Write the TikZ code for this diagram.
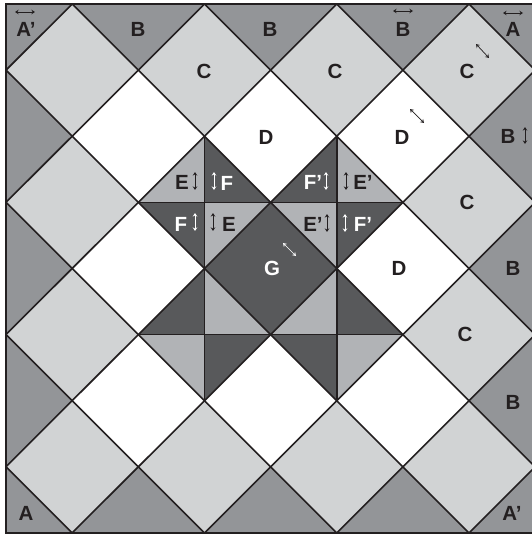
\documentclass[tikz,border=0pt]{standalone}
\usepackage{fontspec}
\usetikzlibrary{arrows.meta}
\setmainfont{Liberation Sans}
\definecolor{midg}{HTML}{939598}
\definecolor{lig}{HTML}{D1D3D4}
\definecolor{elt}{HTML}{B1B3B6}
\definecolor{drk}{HTML}{58595B}
\definecolor{ink}{HTML}{231F20}
\tikzset{
  grid/.style={draw=ink,line width=1.6pt,line join=miter},
  lbl/.style={font=\fontsize{20.5}{20.5}\selectfont\bfseries,text=ink,inner sep=0pt},
  wlbl/.style={lbl,text=white},
  arr/.style={draw=ink,line width=0.7pt,{Stealth[length=3.6pt,width=4.6pt,open]}-{Stealth[length=3.6pt,width=4.6pt,open]}},
  warr/.style={arr,draw=white},
}
\begin{document}
\begin{tikzpicture}[x=1pt,y=-1pt]
\useasboundingbox (0,0) rectangle (532,535);
\begin{scope}[shift={(6,4)},x=66.14pt,y=-66.12pt]
\clip (0,0) rectangle (8,8);
\fill[midg] (0,0) rectangle (8,8);
\foreach \a/\b in {1/1,3/1,5/1,7/1,1/3,7/3,1/5,7/5,1/7,3/7,5/7,7/7}
  \fill[lig] (\a,\b-1) -- (\a+1,\b) -- (\a,\b+1) -- (\a-1,\b) -- cycle;
\foreach \a/\b in {2/2,4/2,6/2,2/4,6/4,2/6,4/6,6/6}
  \fill[white] (\a,\b-1) -- (\a+1,\b) -- (\a,\b+1) -- (\a-1,\b) -- cycle;
\fill[drk] (4,3) -- (5,4) -- (4,5) -- (3,4) -- cycle;
\foreach \a/\b/\p/\q in {3/3/elt/drk,5/3/drk/elt,3/5/drk/elt,5/5/elt/drk}{
  \fill[\p] (\a,\b) -- (\a,\b-1) -- (\a-1,\b) -- cycle;
  \fill[\p] (\a,\b) -- (\a,\b+1) -- (\a+1,\b) -- cycle;
  \fill[\q] (\a,\b) -- (\a,\b-1) -- (\a+1,\b) -- cycle;
  \fill[\q] (\a,\b) -- (\a,\b+1) -- (\a-1,\b) -- cycle;
}
\foreach \k in {1,3,5,7}{
  \draw[grid] (\k,0) -- (0,\k);
  \draw[grid] (\k,0) -- (8,8-\k);
  \draw[grid] (8,\k) -- (\k,8);
  \draw[grid] (0,\k) -- (8-\k,8);
}
\foreach \a/\b in {3/3,5/3,3/5,5/5}{
  \draw[grid] (\a,\b-1) -- (\a,\b+1);
  \draw[grid] (\a-1,\b) -- (\a+1,\b);
}
\end{scope}
\draw[draw=ink,line width=1.8pt] (540,4) -- (6,4) -- (6,533) -- (540,533);
\node[lbl] (a1) at (26,29) {A’};
\node[lbl] (b1) at (138,29) {B};
\node[lbl] (b2) at (270,29) {B};
\node[lbl] (b3) at (403,29) {B};
\node[lbl] (a2) at (513,29) {A};
\node[lbl] (c1) at (204,71) {C};
\node[lbl] (c2) at (335,71) {C};
\node[lbl] (c3) at (467,71) {C};
\node[lbl] (d1) at (266,137) {D};
\node[lbl] (d2) at (402,137) {D};
\node[lbl] (b4) at (508,136) {B};
\node[lbl] (c4) at (467,202) {C};
\node[lbl] (d3) at (399,268) {D};
\node[lbl] (b5) at (513,268) {B};
\node[lbl] (c5) at (465,334) {C};
\node[lbl] (b6) at (513,402) {B};
\node[lbl] (a3) at (26,513) {A};
\node[lbl] (a4) at (512,513) {A’};
\node[lbl] (e1) at (182,182) {E};
\node[wlbl] (f1) at (227,183) {F};
\node[wlbl] (f2) at (181,224) {F};
\node[lbl] (e2) at (229,224) {E};
\node[wlbl] (f3) at (313,182) {F’};
\node[lbl] (e3) at (363,182) {E’};
\node[lbl] (e4) at (313,224) {E’};
\node[wlbl] (f4) at (363,224) {F’};
\node[wlbl] (g) at (272,268) {G};
\coordinate (p1) at (15,12);\coordinate (p2) at (35,12);
\draw[arr] (p1) -- (p2);
\coordinate (p3) at (393,11);\coordinate (p4) at (413,11);
\draw[arr] (p3) -- (p4);
\coordinate (p5) at (503,13);\coordinate (p6) at (523,13);
\draw[arr] (p5) -- (p6);
\coordinate (p7) at (476,44);\coordinate (p8) at (489,58);
\draw[arr] (p7) -- (p8);
\coordinate (p9) at (410,109);\coordinate (p10) at (424,123);
\draw[arr] (p9) -- (p10);
\coordinate (p11) at (525,127);\coordinate (p12) at (525,144);
\draw[arr] (p11) -- (p12);
\foreach \i/\x/\y/\s in {q1/195/181/arr,q2/214/181/warr,q3/195/222/warr,q4/213/222/arr,q5/326/181/warr,q6/346/181/arr,q7/327/223/arr,q8/345/223/warr}{
  \coordinate (\i a) at (\x,\y-9);\coordinate (\i b) at (\x,\y+9);
  \draw[\s] (\i a) -- (\i b);
}
\coordinate (g1) at (283,243);\coordinate (g2) at (296,256);
\draw[warr] (g1) -- (g2);
\end{tikzpicture}
\end{document}
